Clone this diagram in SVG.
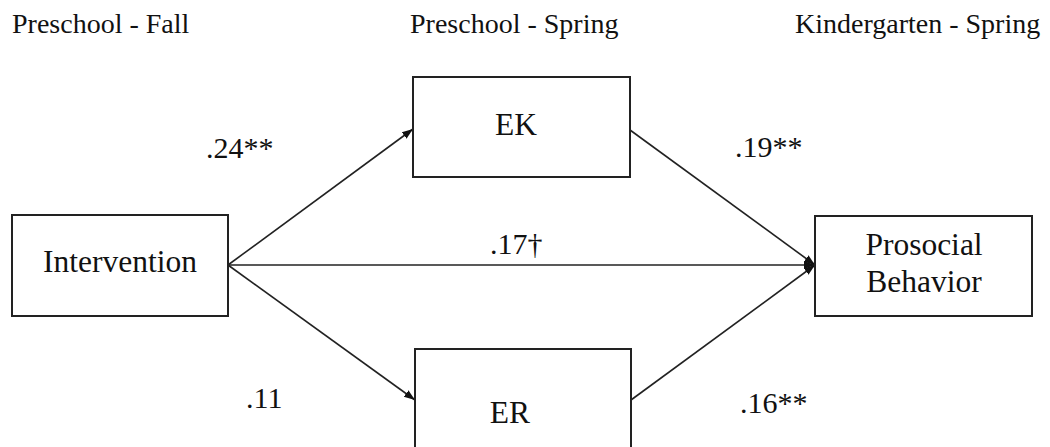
<svg xmlns="http://www.w3.org/2000/svg" width="1050" height="447" viewBox="0 0 1050 447">
  <defs>
    <marker id="arrow" markerUnits="userSpaceOnUse" markerWidth="12" markerHeight="10" refX="11" refY="5" orient="auto">
      <path d="M0,1 L11,5 L0,9 Z" fill="#111111"/>
    </marker>
  </defs>
  <rect width="1050" height="447" fill="#ffffff"/>

  <!-- time-point headings -->
  <g id="headings" fill="#111111">
    <text x="12" y="33" font-family="Times New Roman" font-size="28">Preschool - Fall</text>
    <text x="410" y="33" font-family="Times New Roman" font-size="28">Preschool - Spring</text>
    <text x="795" y="33" font-family="Times New Roman" font-size="28">Kindergarten - Spring</text>
  </g>

  <!-- paths -->
  <g id="connectors" fill="none" stroke="#222222" stroke-width="1.6">
    <line x1="228" y1="265" x2="413" y2="129" marker-end="url(#arrow)"/>
    <line x1="228" y1="265" x2="815" y2="265" marker-end="url(#arrow)"/>
    <line x1="228" y1="265" x2="415" y2="400" marker-end="url(#arrow)"/>
    <line x1="630" y1="130" x2="815" y2="265" marker-end="url(#arrow)"/>
    <line x1="631" y1="400" x2="815" y2="265" marker-end="url(#arrow)"/>
  </g>

  <!-- path coefficients -->
  <g id="coefficients" fill="#111111">
    <text x="206" y="158" font-family="Times New Roman" font-size="30">.24**</text>
    <text x="735" y="157" font-family="Times New Roman" font-size="30">.19**</text>
    <text x="490" y="254" font-family="Times New Roman" font-size="30">.17†</text>
    <text x="246" y="408" font-family="Times New Roman" font-size="30">.11</text>
    <text x="740" y="413" font-family="Times New Roman" font-size="30">.16**</text>
  </g>

  <g id="node-intervention">
    <rect x="12" y="215" width="216" height="101" fill="#ffffff" stroke="#222222" stroke-width="2"/>
    <text x="120" y="272" fill="#111111" font-family="Times New Roman" font-size="31.5" text-anchor="middle">Intervention</text>
  </g>

  <g id="node-ek">
    <rect x="413" y="77" width="217" height="100" fill="#ffffff" stroke="#222222" stroke-width="2"/>
    <text x="516" y="135" fill="#111111" font-family="Times New Roman" font-size="31.5" text-anchor="middle">EK</text>
  </g>

  <g id="node-er">
    <rect x="415" y="349" width="216" height="110" fill="#ffffff" stroke="#222222" stroke-width="2"/>
    <text x="510" y="423" fill="#111111" font-family="Times New Roman" font-size="31.5" text-anchor="middle">ER</text>
  </g>

  <g id="node-prosocial">
    <rect x="815" y="216" width="217" height="100" fill="#ffffff" stroke="#222222" stroke-width="2"/>
    <text x="924" y="255" fill="#111111" font-family="Times New Roman" font-size="31.5" text-anchor="middle">Prosocial</text>
    <text x="924" y="292" fill="#111111" font-family="Times New Roman" font-size="31.5" text-anchor="middle">Behavior</text>
  </g>
</svg>
